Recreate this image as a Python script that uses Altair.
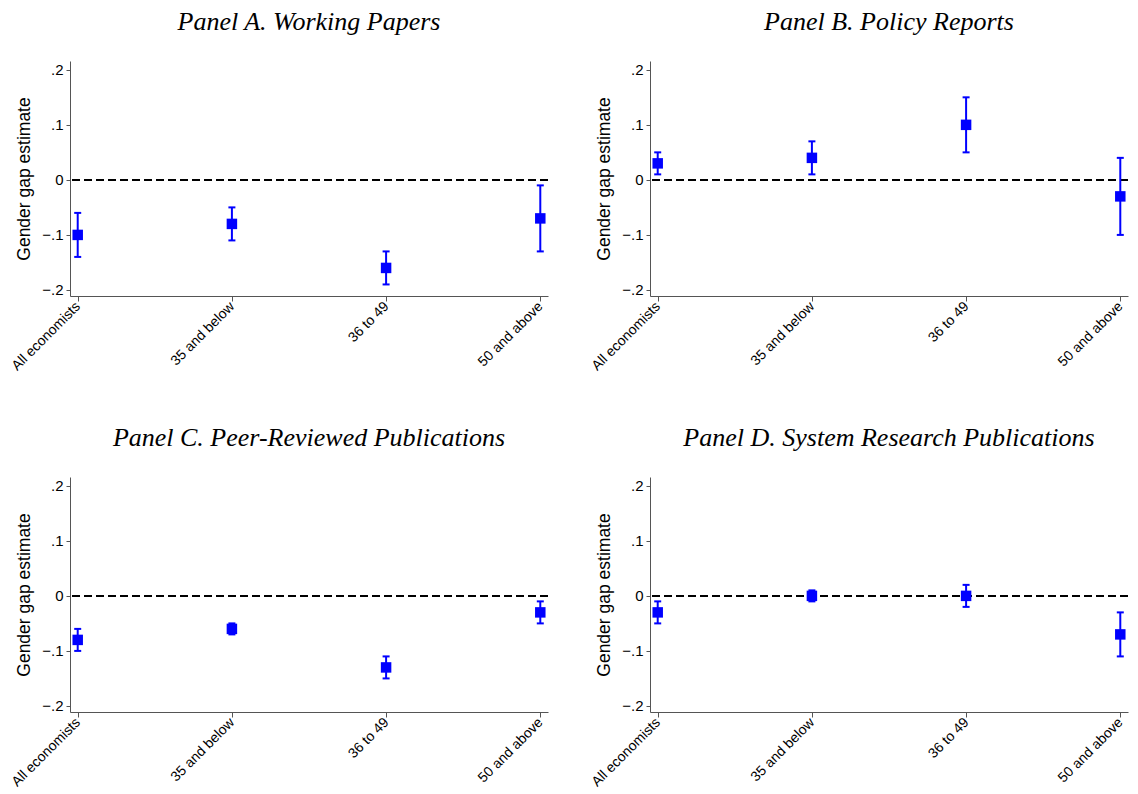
import altair as alt
import pandas as pd

categories = ["All economists", "35 and below", "36 to 49", "50 and above"]
panel_titles = [
    "Panel A. Working Papers",
    "Panel B. Policy Reports",
    "Panel C. Peer-Reviewed Publications",
    "Panel D. System Research Publications",
]

est_a = [-0.10, -0.08, -0.16, -0.07]
lo_a = [-0.14, -0.11, -0.19, -0.13]
hi_a = [-0.06, -0.05, -0.13, -0.01]

est_b = [0.03, 0.04, 0.10, -0.03]
lo_b = [0.01, 0.01, 0.05, -0.10]
hi_b = [0.05, 0.07, 0.15, 0.04]

est_c = [-0.08, -0.06, -0.13, -0.03]
lo_c = [-0.10, -0.07, -0.15, -0.05]
hi_c = [-0.06, -0.05, -0.11, -0.01]

est_d = [-0.03, 0.00, 0.00, -0.07]
lo_d = [-0.05, -0.01, -0.02, -0.11]
hi_d = [-0.01, 0.01, 0.02, -0.03]

y_ticks = [-0.2, -0.1, 0.0, 0.1, 0.2]

BLUE = "#0000ff"
W, H = 478, 235


def panel(title, est, lo, hi):
    df = pd.DataFrame({"cat": categories, "est": est, "lo": lo, "hi": hi})
    xenc = alt.X(
        "cat:N",
        sort=categories,
        scale=alt.Scale(type="point", padding=0.05),
        axis=alt.Axis(
            title=None,
            labelAngle=-45,
            labelAlign="right",
            labelBaseline="middle",
            labelPadding=3,
            tickSize=5,
            labelFont="Liberation Sans",
            labelFontSize=14,
            labelColor="black",
            domainColor="#555555",
            tickColor="#555555",
            grid=False,
        ),
    )
    yscale = alt.Scale(domain=[-0.211, 0.216], nice=False, zero=False)
    yaxis = alt.Axis(
        title="Gender gap estimate",
        titleFont="Liberation Sans",
        titleFontSize=17.5,
        titleFontWeight="normal",
        titleColor="black",
        titlePadding=8,
        values=y_ticks,
        labelExpr="datum.value == 0 ? '0' : replace(format(datum.value, '.1f'), '0.', '.')",
        labelFont="Liberation Sans",
        labelFontSize=15,
        labelColor="black",
        tickSize=4,
        labelPadding=3,
        domainColor="#555555",
        tickColor="#555555",
        grid=False,
    )
    base = alt.Chart(df)
    zero = base.mark_rule(color="black", strokeDash=[8, 4], strokeWidth=1.6).encode(
        y=alt.datum(0, scale=yscale, axis=yaxis)
    )
    bars = base.mark_rule(color=BLUE, strokeWidth=2).encode(
        x=xenc, y=alt.Y("lo:Q", scale=yscale, axis=yaxis), y2="hi:Q"
    )
    cap_lo = base.mark_tick(color=BLUE, size=7, thickness=2, opacity=1).encode(
        x=xenc, y=alt.Y("lo:Q", scale=yscale, axis=yaxis)
    )
    cap_hi = base.mark_tick(color=BLUE, size=7, thickness=2, opacity=1).encode(
        x=xenc, y=alt.Y("hi:Q", scale=yscale, axis=yaxis)
    )
    pts = base.mark_point(shape="square", filled=True, color=BLUE, size=110, opacity=1).encode(
        x=xenc, y=alt.Y("est:Q", scale=yscale, axis=yaxis)
    )
    return alt.layer(zero, bars, cap_lo, cap_hi, pts).properties(
        width=W,
        height=H,
        title=alt.TitleParams(
            text=title,
            font="Liberation Serif",
            fontStyle="italic",
            fontWeight="normal",
            fontSize=26,
            color="black",
            anchor="middle",
            offset=26,
        ),
    )


pa = panel(panel_titles[0], est_a, lo_a, hi_a)
pb = panel(panel_titles[1], est_b, lo_b, hi_b)
pc = panel(panel_titles[2], est_c, lo_c, hi_c)
pd_ = panel(panel_titles[3], est_d, lo_d, hi_d)

chart = (
    alt.concat(
        pa, pb, pc, pd_,
        columns=2,
        spacing={"row": 181, "column": 102},
        bounds="flush",
    )
    .properties(padding={"left": 0, "top": 0, "right": 0, "bottom": 0})
    .configure(background="white")
    .configure_view(stroke="transparent")
)

chart.save("out.html", embed_options={"renderer": "svg", "actions": False})
